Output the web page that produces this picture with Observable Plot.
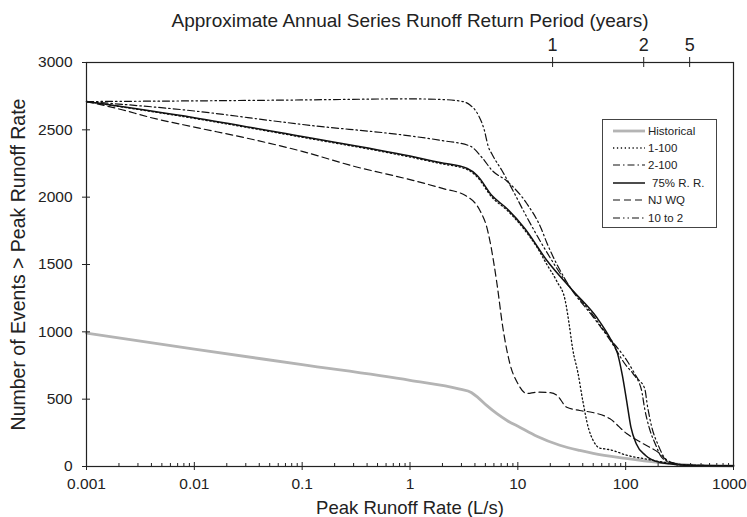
<!DOCTYPE html>
<html><head><meta charset="utf-8">
<script src="https://cdn.jsdelivr.net/npm/d3@7"></script>
<script src="https://cdn.jsdelivr.net/npm/@observablehq/plot@0.6"></script>
<style>
body{margin:0;background:#fff;}
#wrap{position:relative;width:747px;height:517px;font-family:"Liberation Sans",Arial,sans-serif;color:#222;}
#legend{position:absolute;left:602px;top:119px;width:115px;height:109px;border:1px solid #444;background:#fff;box-sizing:border-box;font-size:11.5px;padding-top:2px;}
#legend .row{display:flex;align-items:center;height:17.4px;}
#legend svg{margin-left:10px;margin-right:3px;}
</style></head><body><div id="wrap"></div>
<script>
// Peak runoff rate (L/s) vs number of events exceeding it
const historical = [[0.001,990],[0.01,872],[0.1,756],[1,640],[2.9,575],[3.7,550],[4.3,510],[5.2,450],[6.4,392],[8,340],[10.4,292],[15,225],[24.5,158],[37.5,119],[50,97],[100,60],[200,30],[300,18],[500,8],[1000,5]];
const oneTo100 = [[0.001,2710],[0.01,2585],[0.1,2445],[1,2298],[1.9,2250],[3.4,2205],[4.2,2150],[5.75,2000],[7.9,1905],[11.6,1755],[15,1630],[18.6,1500],[23,1375],[27.5,1233],[30,1050],[32.3,870],[36,700],[40,490],[45,290],[49.5,200],[57,138],[65,130],[71,125],[102,84],[155,55],[240,28],[400,8],[1000,5]];
const twoTo100 = [[0.001,2710],[0.01,2640],[0.0625,2560],[0.1,2540],[1,2455],[2,2420],[3.6,2380],[4.7,2290],[5.75,2200],[7.9,2120],[12.1,1953],[16.3,1775],[18.6,1660],[30,1340],[50,1110],[72,936],[102,745],[117,690],[140,570],[150,430],[165,290],[190,160],[215,70],[260,30],[400,10],[1000,5]];
const rr75 = [[0.001,2710],[0.01,2590],[0.1,2450],[1,2305],[1.9,2257],[3.4,2213],[4.2,2161],[5.75,2012],[7.9,1916],[11.6,1767],[18.6,1530],[32.3,1307],[54,1106],[72,950],[84,840],[93,680],[102,490],[112,290],[125,171],[153,82],[207,30],[255,20],[400,8],[1000,5]];
const njwq = [[0.001,2710],[0.002,2655],[0.004,2590],[0.01,2520],[0.03,2440],[0.1,2340],[0.3,2230],[1,2130],[2,2065],[3.3,2010],[4.45,1901],[5.16,1775],[5.5,1678],[6.4,1359],[7.26,1032],[8.43,765],[10,616],[12.1,542],[15,552],[20,548],[23,530],[28.4,440],[37.5,416],[49.5,401],[71,356],[102,245],[144,171],[207,97],[255,30],[400,8],[1000,5]];
const tenTo2 = [[0.001,2710],[0.01,2715],[0.1,2722],[1,2730],[2,2725],[3,2712],[3.6,2685],[4.3,2610],[4.9,2495],[5.3,2380],[5.75,2320],[7.1,2200],[9,2050],[11.6,1880],[18.6,1590],[28,1370],[48,1140],[70,960],[104,780],[130,650],[150,580],[160,440],[175,290],[200,160],[230,65],[280,25],[400,10],[1000,5]];

const seriesNames = ["Historical","1-100","2-100","75% R. R.","NJ WQ","10 to 2"];
const seriesData = [historical, oneTo100, twoTo100, rr75, njwq, tenTo2];

const xTicks = [0.001,0.01,0.1,1,10,100,1000];
const xTickLabels = ["0.001","0.01","0.1","1","10","100","1000"];
const yTicks = [0,500,1000,1500,2000,2500,3000];
const returnPeriodX = [21,147,392];
const returnPeriodLabels = ["1","2","5"];
const minorTicks = xTicks.slice(0,-1).flatMap(d => [2,3,4,5,6,7,8,9].map(k => d*k));

const styles = [
  {stroke:"#b4b4b4", width:2.8, dash:null},
  {stroke:"#111", width:1.3, dash:"1.3,2.6"},
  {stroke:"#111", width:1.2, dash:"7,3,1.5,3"},
  {stroke:"#111", width:1.5, dash:null},
  {stroke:"#111", width:1.2, dash:"7,4"},
  {stroke:"#111", width:1.2, dash:"7,3,1.5,3,1.5,3"}
];

const lastTick = xTicks[xTicks.length - 1];

const chart = Plot.plot({
  width: 747, height: 517,
  marginTop: 62, marginBottom: 51, marginLeft: 86, marginRight: 14,
  style: {fontFamily: '"Liberation Sans", Arial, sans-serif', color: "#222", background: "#fff"},
  x: {type: "log", domain: [0.001, 1000], axis: null},
  y: {domain: [0, 3000]},
  marks: [
    ...seriesData.map((data, i) => Plot.line(data, {x: d => d[0], y: d => d[1], stroke: styles[i].stroke, strokeWidth: styles[i].width, strokeDasharray: styles[i].dash, curve: "monotone-x"})),
    Plot.frame({stroke: "#222", strokeWidth: 1.2}),
    Plot.ruleX(xTicks, {x: d => d, y1: 0, y2: 0, insetTop: -4, insetBottom: -4, stroke: "#222"}),
    Plot.ruleX(minorTicks, {x: d => d, y1: 0, y2: 0, insetTop: -3, insetBottom: -1, stroke: "#222"}),
    Plot.ruleY(yTicks, {y: d => d, x1: 0.001, x2: 0.001, insetLeft: -4, insetRight: -4, stroke: "#222"}),
    Plot.ruleX(returnPeriodX, {x: d => d, y1: 3000, y2: 3000, insetTop: -5, insetBottom: -5, stroke: "#222"}),
    Plot.text(xTicks.slice(0, -1), {x: d => d, frameAnchor: "bottom", lineAnchor: "middle", textAnchor: "middle", dy: 18, fontSize: 15.5, text: (d, i) => xTickLabels[i]}),
    Plot.text([lastTick], {x: d => d, frameAnchor: "bottom", lineAnchor: "middle", textAnchor: "end", dx: 13, dy: 18, fontSize: 15.5, text: () => xTickLabels[xTickLabels.length - 1]}),
    Plot.axisY(yTicks, {anchor: "left", tickSize: 0, tickPadding: 14, fontSize: 15.5, tickFormat: d => String(d), label: null}),
    Plot.text(returnPeriodX, {x: d => d, frameAnchor: "top", lineAnchor: "middle", dy: -17, fontSize: 18, text: (d, i) => returnPeriodLabels[i]}),
    Plot.text(["Peak Runoff Rate (L/s)"], {frameAnchor: "bottom", lineAnchor: "middle", textAnchor: "middle", dy: 42, fontSize: 18.5, text: d => d}),
    Plot.text(["Approximate Annual Series Runoff Return Period (years)"], {frameAnchor: "top", lineAnchor: "middle", textAnchor: "middle", dy: -42, fontSize: 19, text: d => d}),
    Plot.text(["Number of Events > Peak Runoff Rate"], {frameAnchor: "left", lineAnchor: "middle", textAnchor: "middle", dx: -68, rotate: -90, fontSize: 19.5, text: d => d})
  ]
});

const wrap = document.getElementById("wrap");
wrap.appendChild(chart);

const legend = document.createElement("div");
legend.id = "legend";
seriesNames.forEach((name, i) => {
  const row = document.createElement("div");
  row.className = "row";
  const s = styles[i];
  row.innerHTML = `<svg width="32" height="8"><line x1="0" y1="4" x2="32" y2="4" stroke="${s.stroke}" stroke-width="${s.width}" ${s.dash ? `stroke-dasharray="${s.dash}"` : ""}/></svg><span style="${name.startsWith('75') ? 'padding-left:4px' : ''}">${name}</span>`;
  legend.appendChild(row);
});
wrap.appendChild(legend);
</script>
</body></html>
